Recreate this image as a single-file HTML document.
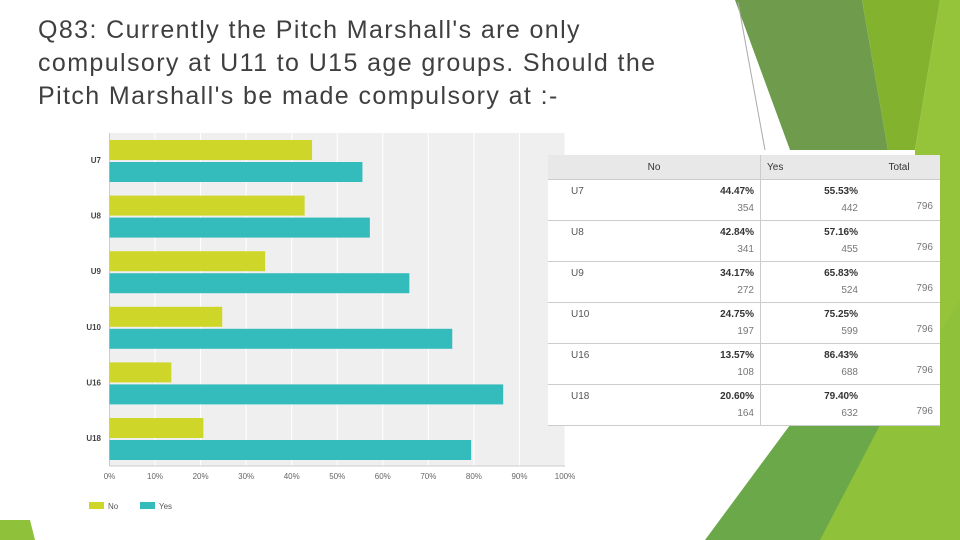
<!DOCTYPE html>
<html><head><meta charset="utf-8"><style>
body{margin:0;width:960px;height:540px;overflow:hidden;background:#fff;font-family:"Liberation Sans",sans-serif;position:relative}
#title{position:absolute;left:38px;top:14px;font-size:25px;line-height:33px;color:#3f3f3f;white-space:nowrap;letter-spacing:1.4px}
#deco,#chart{position:absolute;left:0;top:0}
#tbl{position:absolute;left:548px;top:155px;width:392px;border-collapse:collapse;font-size:10px;color:#555;background:#fff;font-family:"Liberation Sans Narrow","Liberation Sans",sans-serif}
#tbl th{height:22px;background:#e8e8e8;font-weight:normal;color:#333;border-bottom:1px solid #ccc}
#tbl td{height:40px;border-bottom:1px solid #ccc;vertical-align:top;padding:0}
.pc{font-weight:bold;color:#333;display:block;margin-top:6px}
.ct{display:block;margin-top:6px;color:#777}
</style></head><body>
<svg id="deco" width="960" height="540">
<polygon points="735,0 862,0 888,150 790,150" fill="#6e9c4c"/>
<polygon points="862,0 940,0 915,150 888,150" fill="#83b22f"/>
<polygon points="940,0 960,0 960,540 915,540 915,150" fill="#95c43a"/>
<line x1="738" y1="2" x2="765" y2="150" stroke="#aaa" stroke-width="1"/>
<polygon points="760,540 800,425 850,425 800,540" fill="#d6e8b6"/>
<polygon points="705,540 790,425 880,425 840,540" fill="#6aa84a"/>
<polygon points="820,540 880,425 960,300 960,540" fill="#8fc23a"/>
<polygon points="0,520 30,520 35,540 0,540" fill="#8fc23a"/>
</svg>
<div id="title">Q83: Currently the Pitch Marshall's are only<br>compulsory at U11 to U15 age groups. Should the<br>Pitch Marshall's be made compulsory at :-</div>
<svg id="chart" width="960" height="540"></svg>
<table id="tbl">
<tr><th style="width:210px">No</th><th style="text-align:left;border-left:1px solid #ccc;padding-left:6px;width:90px">Yes</th><th>Total</th></tr>
</table>
<script>
const categories=["U7","U8","U9","U10","U16","U18"];
const tableLabels=["U7","U8","U9","U10","U16","U18"];
const noVals=[44.47,42.84,34.17,24.75,13.57,20.60];
const yesVals=[55.53,57.16,65.83,75.25,86.43,79.40];
const noCounts=[354,341,272,197,108,164];
const yesCounts=[442,455,524,599,688,632];
const totals=[796,796,796,796,796,796];
const ticks=[0,10,20,30,40,50,60,70,80,90,100];
const NS="http://www.w3.org/2000/svg";
const svg=document.getElementById('chart');
const X0=109.5,X1=565,TOPY=133,BOTY=466;
const xs=v=>X0+(X1-X0)*v/100;
const groupY=i=>140+i*55.6;
function mk(t,a){const e=document.createElementNS(NS,t);for(const k in a)e.setAttribute(k,a[k]);svg.appendChild(e);return e;}
let bg=mk('rect',{x:X0,y:TOPY,width:X1-X0,height:BOTY-TOPY,fill:'#efefef'});


ticks.forEach(t=>{
  const g=mk('line',{x1:xs(t),x2:xs(t),y1:TOPY,y2:BOTY,stroke:'#fff','stroke-width':1});
  
  
  const l=mk('text',{x:xs(t),y:479,'font-size':8,fill:'#666','text-anchor':'middle','font-family':'Liberation Sans'});
  l.textContent=t+'%';
  
  
});
mk('line',{x1:X0,x2:X0,y1:TOPY,y2:BOTY,stroke:'#ccc'});
mk('line',{x1:X0,x2:X1,y1:BOTY,y2:BOTY,stroke:'#ccc'});
categories.forEach((c,i)=>{
  const y=groupY(i);
  const b1=mk('rect',{x:X0,y:y,width:xs(noVals[i])-X0,height:20,fill:'#cfd62a'});
  
  
  const b2=mk('rect',{x:X0,y:y+22,width:xs(yesVals[i])-X0,height:20,fill:'#34bcbd'});
  
  
  const l=mk('text',{x:101,y:y+23,'font-size':8,'font-weight':'bold',fill:'#444','text-anchor':'end','font-family':'Liberation Sans'});
  l.textContent=c;
  
  
});
[['No','#cfd62a',89],['Yes','#34bcbd',140]].forEach(([n,col,x])=>{
  const r=mk('rect',{x:x,y:502,width:15,height:7,fill:col});
  
  
  const t=mk('text',{x:x+19,y:509,'font-size':8,fill:'#555','font-family':'Liberation Sans'});
  t.textContent=n;
  
  
});
const tbl=document.getElementById('tbl');
tableLabels.forEach((c,i)=>{
  const tr=document.createElement('tr');
  
  
  tr.innerHTML=`<td style="position:relative"><span style="position:absolute;left:23px;top:6px">${c}</span><span style="position:absolute;right:6px;top:0;text-align:right"><span class="pc">${noVals[i].toFixed(2)}%</span><span class="ct">${noCounts[i]}</span></span></td>`+
  `<td style="border-left:1px solid #ccc;text-align:right;padding-right:0"><span class="pc">${yesVals[i].toFixed(2)}%</span><span class="ct">${yesCounts[i]}</span></td>`+
  `<td style="text-align:right;padding-right:7px;vertical-align:bottom"><span style="display:block;margin-bottom:8px;color:#777">${totals[i]}</span></td>`;
  tbl.appendChild(tr);
});
</script>
</body></html>
